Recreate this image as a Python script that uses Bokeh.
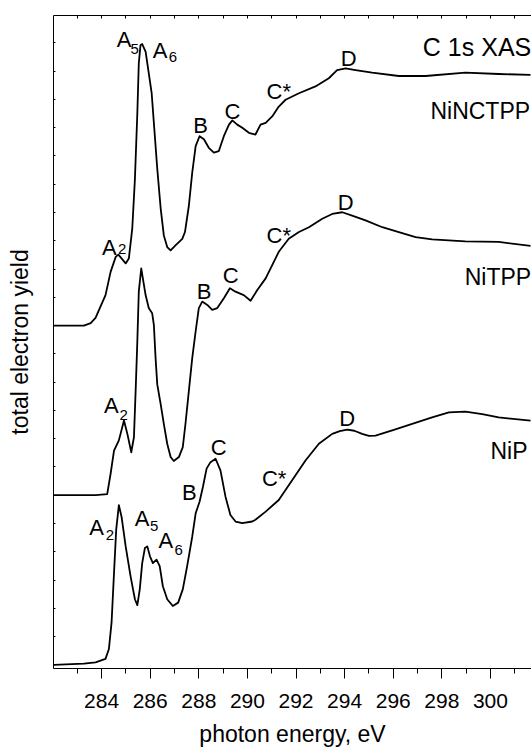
from bokeh.plotting import figure
from bokeh.models import Range1d, FixedTicker, LinearAxis, CustomJSTickFormatter
from bokeh.embed import file_html
from bokeh.resources import INLINE
from bokeh.core.properties import value

FONT = "Liberation Sans"

# ---- data: photon energy (eV) and total electron yield (arb. units, offset) ----
ninctpp_e = [282.04, 283.27, 283.55, 283.75, 284.16, 284.37, 284.58, 284.69, 284.99, 285.12,
             285.26, 285.37, 285.47, 285.53, 285.60, 285.67, 285.81, 285.94, 286.06, 286.15,
             286.29, 286.43, 286.56, 286.70, 286.84, 287.04, 287.32, 287.43, 287.59, 287.73,
             287.87, 288.03, 288.21, 288.41, 288.62, 288.82, 289.03, 289.24, 289.38, 289.58,
             289.79, 290.06, 290.33, 290.54, 290.75, 291.02, 291.29, 291.57, 292.12, 292.80,
             293.35, 293.69, 294.04, 294.45, 295.13, 296.23, 297.33, 298.97, 300.34, 301.65]
ninctpp_y = [12.00, 12.00, 12.09, 12.27, 13.08, 13.90, 14.43, 14.51, 14.20, 14.37,
             15.42, 17.18, 19.52, 21.28, 21.92, 21.96, 21.69, 20.93, 20.22, 19.17,
             17.55, 16.15, 15.19, 14.78, 14.66, 14.84, 15.07, 15.31, 16.24, 17.42,
             18.35, 18.70, 18.59, 18.29, 18.12, 18.17, 18.70, 19.11, 19.26, 19.11,
             19.00, 18.82, 18.76, 19.11, 19.17, 19.40, 19.75, 19.99, 20.22, 20.46,
             20.75, 21.04, 21.10, 21.04, 20.95, 20.83, 20.83, 20.95, 20.90, 20.87]

nitpp_e = [282.04, 283.75, 284.23, 284.37, 284.51, 284.71, 284.92, 285.06, 285.22, 285.33,
           285.40, 285.47, 285.53, 285.63, 285.81, 285.94, 286.08, 286.15, 286.22, 286.29,
           286.43, 286.56, 286.70, 286.84, 286.97, 287.18, 287.34, 287.45, 287.59, 287.73,
           287.87, 288.00, 288.14, 288.35, 288.55, 288.76, 289.03, 289.28, 289.51, 289.85,
           290.13, 290.40, 290.75, 291.02, 291.29, 291.70, 292.12, 292.53, 293.08, 293.49,
           293.90, 294.31, 294.86, 295.55, 296.23, 296.92, 297.60, 298.97, 300.34, 301.65]
nitpp_y = [6.00, 6.00, 6.04, 6.76, 7.58, 7.94, 8.64, 8.17, 7.52, 8.05,
           9.69, 11.45, 13.20, 14.02, 13.08, 12.62, 12.44, 12.03, 10.86, 9.92,
           9.22, 8.52, 7.82, 7.35, 7.21, 7.35, 7.70, 8.52, 9.69, 10.86,
           11.80, 12.62, 12.85, 12.73, 12.56, 12.62, 12.97, 13.32, 13.20, 13.08,
           12.88, 13.25, 13.67, 14.14, 14.61, 15.07, 15.31, 15.48, 15.78, 15.95,
           16.01, 15.89, 15.72, 15.48, 15.31, 15.13, 15.05, 14.98, 14.96, 14.82]

nip_e = [282.04, 283.27, 283.75, 284.16, 284.30, 284.41, 284.51, 284.60, 284.71, 284.82,
         284.99, 285.19, 285.37, 285.47, 285.57, 285.67, 285.78, 285.88, 285.99, 286.11,
         286.26, 286.39, 286.52, 286.70, 286.93, 287.15, 287.34, 287.52, 287.73, 287.87,
         288.03, 288.17, 288.32, 288.48, 288.69, 288.89, 289.10, 289.30, 289.51, 289.79,
         290.20, 290.33, 290.75, 291.29, 291.84, 292.39, 292.94, 293.49, 293.80, 294.11,
         294.40, 294.72, 295.00, 295.27, 295.96, 296.78, 297.60, 298.29, 298.97, 299.66,
         300.34, 301.65]
nip_y = [0.00, 0.04, 0.09, 0.21, 0.56, 1.50, 3.25, 4.78, 5.65, 5.24,
         4.19, 3.14, 2.32, 2.11, 2.67, 3.60, 4.13, 4.19, 3.84, 3.60,
         3.72, 3.49, 2.78, 2.32, 2.08, 2.20, 2.67, 3.49, 4.54, 5.36,
         5.77, 6.30, 6.94, 7.17, 7.29, 6.88, 5.94, 5.30, 5.07, 5.01,
         5.07, 5.13, 5.42, 5.83, 6.53, 7.23, 7.82, 8.17, 8.27, 8.32,
         8.28, 8.17, 8.10, 8.11, 8.29, 8.52, 8.75, 8.93, 8.96, 8.87,
         8.75, 8.64]

# ---- peak annotations ----
peak_text = ["A", "A", "A", "B", "C", "C*", "D",
             "A", "B", "C", "C*", "D",
             "A", "A", "A", "B", "C", "C*", "D"]
peak_x = [284.92, 286.41, 284.32, 288.07, 289.38, 291.29, 294.17,
          284.40, 288.22, 289.31, 291.29, 294.04,
          283.79, 285.67, 286.64, 287.61, 288.82, 291.10, 294.11]
peak_y = [22.13, 21.74, 14.78, 19.08, 19.58, 20.28, 21.45,
          9.16, 13.20, 13.79, 15.17, 16.36,
          4.87, 5.18, 4.40, 6.10, 7.68, 6.59, 8.73]

sub_text = ["5", "6", "2", "2", "2", "5", "6"]
sub_x = [285.36, 286.93, 284.85, 284.91, 284.34, 286.16, 287.17]
sub_y = [21.77, 21.49, 14.72, 8.85, 4.58, 4.92, 4.05]

name_text = ["NiNCTPP", "NiTPP", "NiP"]
name_x = [297.53, 298.94, 300.00]
name_y = [19.58, 13.71, 7.58]

title_text = ["C 1s XAS"]
title_x = [297.22]
title_y = [21.86]

major_x = [284, 286, 288, 290, 292, 294, 296, 298, 300]
minor_x = [283, 285, 287, 289, 291, 293, 295, 297, 299, 301]
top_x = list(range(283, 302))
y_ticks = list(range(0, 24))

p = figure(width=531, height=749, output_backend="svg", toolbar_location=None,
           x_range=Range1d(282.02, 301.69), y_range=Range1d(-0.13, 22.97),
           min_border_left=53, min_border_right=0, min_border_top=15, min_border_bottom=76)
p.grid.visible = False
p.outline_line_color = None
p.background_fill_color = "white"
p.border_fill_color = "white"

blank = CustomJSTickFormatter(code="return '';")

xa = p.xaxis[0]
xa.ticker = FixedTicker(ticks=major_x, minor_ticks=minor_x)
xa.major_tick_out = 10
xa.major_tick_in = 0
xa.minor_tick_out = 5
xa.minor_tick_in = 0
xa.major_label_text_font = FONT
xa.major_label_text_font_size = "21px"
xa.major_label_text_color = "black"
xa.major_label_standoff = 15
xa.axis_label = "photon energy, eV"
xa.axis_label_text_font = FONT
xa.axis_label_text_font_size = "23px"
xa.axis_label_text_font_style = "normal"
xa.axis_label_text_color = "black"
xa.axis_label_standoff = 10
xa.axis_line_color = "black"
xa.major_tick_line_color = "black"
xa.minor_tick_line_color = "black"

ya = p.yaxis[0]
ya.ticker = FixedTicker(ticks=y_ticks, minor_ticks=[])
ya.formatter = blank
ya.major_tick_in = 2
ya.major_tick_out = 0
ya.minor_tick_in = 0
ya.minor_tick_out = 0
ya.major_label_standoff = 0
ya.axis_label = "total electron yield"
ya.axis_label_text_font = FONT
ya.axis_label_text_font_size = "23px"
ya.axis_label_text_font_style = "normal"
ya.axis_label_text_color = "black"
ya.axis_label_standoff = 21
ya.axis_line_color = "black"
ya.major_tick_line_color = "black"

top = LinearAxis(ticker=FixedTicker(ticks=top_x, minor_ticks=[]), formatter=blank,
                 major_tick_in=3, major_tick_out=0, minor_tick_in=0, minor_tick_out=0,
                 major_label_standoff=0,
                 axis_line_color="black", major_tick_line_color="black")
p.add_layout(top, "above")

for e, y in [(ninctpp_e, ninctpp_y), (nitpp_e, nitpp_y), (nip_e, nip_y)]:
    p.line(e, y, line_color="black", line_width=1.8, line_join="round")

p.text(x=peak_x, y=peak_y, text=peak_text, text_font=value(FONT), text_font_size="22px",
       text_align="center", text_baseline="alphabetic", text_color="black")
p.text(x=sub_x, y=sub_y, text=sub_text, text_font=value(FONT), text_font_size="15px",
       text_align="center", text_baseline="alphabetic", text_color="black")
p.text(x=name_x, y=name_y, text=name_text, text_font=value(FONT), text_font_size="23px",
       text_align="left", text_baseline="alphabetic", text_color="black")
p.text(x=title_x, y=title_y, text=title_text, text_font=value(FONT), text_font_size="25px",
       text_align="left", text_baseline="alphabetic", text_color="black")

open("out.html", "w").write(file_html(p, INLINE))
